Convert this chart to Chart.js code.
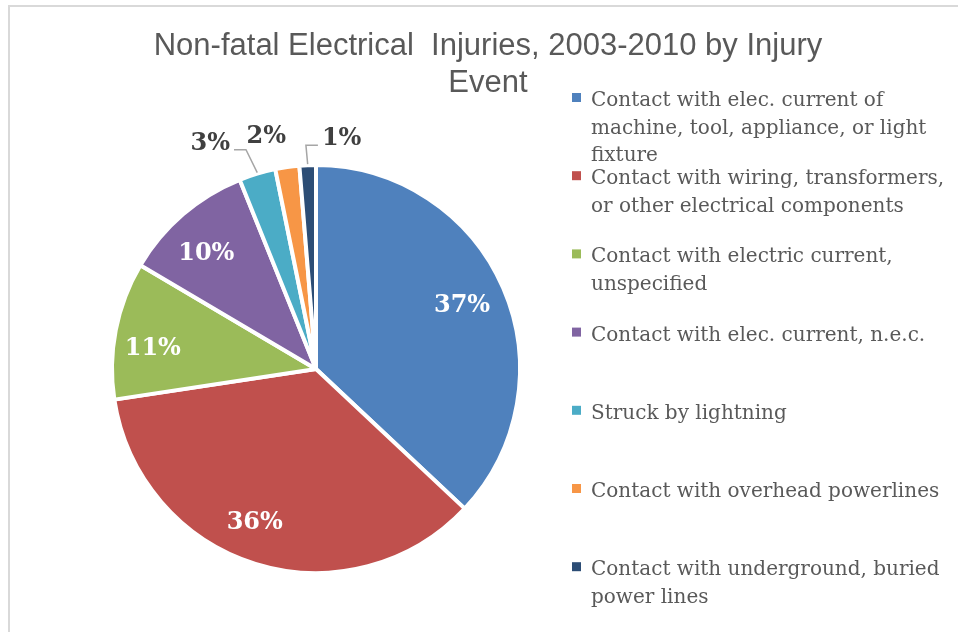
<!DOCTYPE html>
<html lang="en">
<head>
<meta charset="utf-8">
<title>Non-fatal Electrical Injuries</title>
<script src="https://cdn.jsdelivr.net/npm/chart.js@4.4.1/dist/chart.umd.min.js"></script>
<style>
  body { margin: 0; background: #ffffff; }
  #wrap { width: 958px; height: 632px; }
</style>
</head>
<body>
<div id="wrap"><canvas id="chart" width="958" height="632"></canvas></div>
<script>
// data
var titleLines = ['Non-fatal Electrical  Injuries, 2003-2010 by Injury', 'Event'];
var categories = [
  ['Contact with elec. current of', 'machine, tool, appliance, or light', 'fixture'],
  ['Contact with wiring, transformers,', 'or other electrical components'],
  ['Contact with electric current,', 'unspecified'],
  ['Contact with elec. current, n.e.c.'],
  ['Struck by lightning'],
  ['Contact with overhead powerlines'],
  ['Contact with underground, buried', 'power lines']
];
var shares = [37.0, 35.6, 10.9, 10.4, 2.9, 1.9, 1.3];
var sliceColors = ['#4F81BD', '#C0504D', '#9BBB59', '#8064A2', '#4BACC6', '#F79646', '#2C4D75'];

// label placement tweaks (Excel "best fit" look)
var insideNudge = [[0, 0], [-14, 2], [-7, 10], [-6, 5]];
var outsideShift = [null, null, null, null, [-47, -30], [-21, -30], [34, -26]];
var leaderFor = [false, false, false, false, true, false, true];

var decor = {
  id: 'decor',
  beforeDraw: function(chart) {
    var ctx = chart.ctx;
    ctx.save();
    ctx.strokeStyle = '#D9D9D9';
    ctx.lineWidth = 2;
    ctx.beginPath();
    ctx.moveTo(8, 6); ctx.lineTo(958, 6);
    ctx.moveTo(9, 5); ctx.lineTo(9, 632);
    ctx.stroke();
    ctx.restore();
  },
  afterDatasetsDraw: function(chart) {
    var ctx = chart.ctx;
    var meta = chart.getDatasetMeta(0);
    ctx.save();
    ctx.font = 'bold 24px "DejaVu Serif"';
    ctx.textAlign = 'center';
    ctx.textBaseline = 'middle';
    meta.data.forEach(function(arc, i) {
      var p = arc.getProps(['x', 'y', 'startAngle', 'endAngle', 'outerRadius'], true);
      var mid = (p.startAngle + p.endAngle) / 2;
      var txt = Math.round(shares[i]) + '%';
      if (!outsideShift[i]) {
        var r = p.outerRadius * 0.78;
        var n = insideNudge[i] || [0, 0];
        ctx.fillStyle = '#FFFFFF';
        ctx.fillText(txt, p.x + Math.cos(mid) * r + n[0], p.y + Math.sin(mid) * r + n[1]);
      } else {
        var ex = p.x + Math.cos(mid) * p.outerRadius;
        var ey = p.y + Math.sin(mid) * p.outerRadius;
        var lx = ex + outsideShift[i][0];
        var ly = ey + outsideShift[i][1];
        if (leaderFor[i]) {
          var w = ctx.measureText(txt).width;
          var side = outsideShift[i][0] < 0 ? 1 : -1;
          var sx = lx + side * (w / 2 + 4);
          ctx.strokeStyle = '#A6A6A6';
          ctx.lineWidth = 1.5;
          ctx.beginPath();
          ctx.moveTo(sx, ly + 6);
          ctx.lineTo(sx + side * 12, ly + 6);
          ctx.lineTo(ex, ey - 1);
          ctx.stroke();
        }
        ctx.fillStyle = '#404040';
        ctx.fillText(txt, lx, ly);
      }
    });
    ctx.restore();
  },
  afterDraw: function(chart) {
    var ctx = chart.ctx;
    ctx.save();
    // title
    ctx.fillStyle = '#595959';
    ctx.font = '31px "Liberation Sans"';
    ctx.textAlign = 'center';
    ctx.textBaseline = 'alphabetic';
    ctx.fillText(titleLines[0], 488, 55);
    ctx.fillText(titleLines[1], 488, 92);
    // legend
    ctx.textAlign = 'left';
    ctx.font = '20px "DejaVu Serif"';
    var top = 106, step = 78.2, lineH = 27.5;
    categories.forEach(function(lines, i) {
      var base = top + i * step;
      ctx.fillStyle = sliceColors[i];
      ctx.fillRect(572, base - 13, 9, 9);
      ctx.fillStyle = '#595959';
      lines.forEach(function(t, k) {
        ctx.fillText(t, 591, base + k * lineH);
      });
    });
    ctx.restore();
  }
};

new Chart(document.getElementById('chart'), {
  type: 'pie',
  data: {
    labels: categories,
    datasets: [{
      data: shares,
      backgroundColor: sliceColors,
      borderColor: '#FFFFFF',
      borderWidth: 4
    }]
  },
  options: {
    responsive: false,
    animation: false,
    radius: 204,
    layout: { padding: { left: 96, right: 422, top: 149, bottom: 43 } },
    plugins: {
      legend: { display: false },
      title: { display: false },
      tooltip: { enabled: false }
    }
  },
  plugins: [decor]
});
</script>
</body>
</html>
